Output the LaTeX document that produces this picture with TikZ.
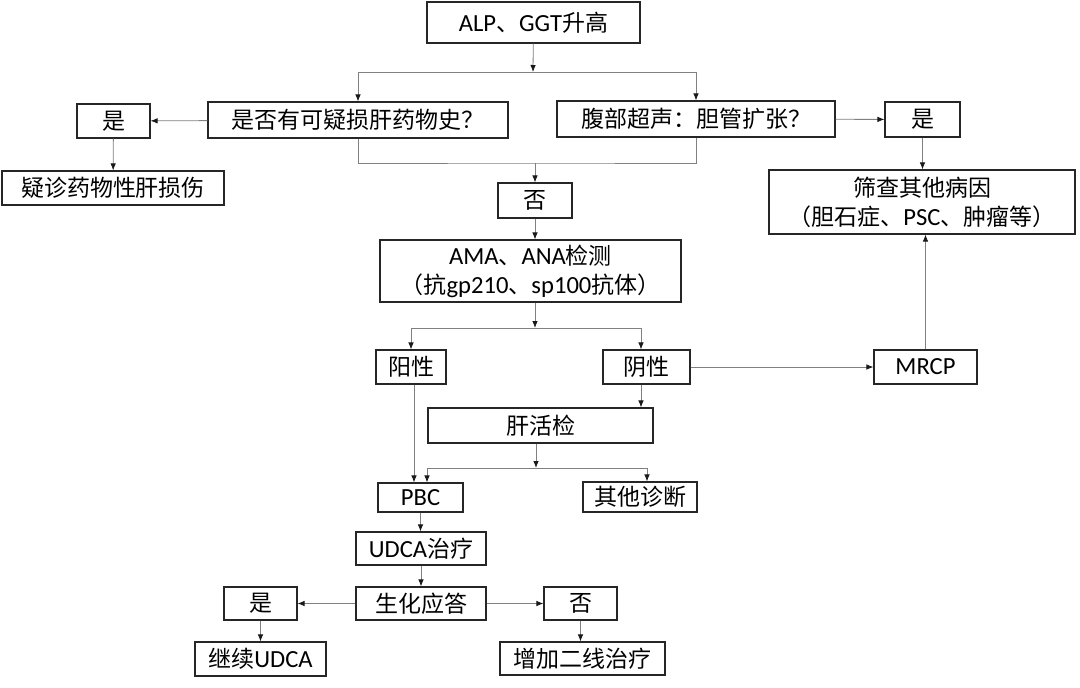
\documentclass[tikz,border=0pt]{standalone}
\usepackage{fontspec}
\setmainfont{Noto Sans CJK SC}
\newfontfamily\en{Carlito}[Scale=1.07]
\usepackage{tikz}
\usetikzlibrary{positioning, arrows.meta}

\begin{document}
\begin{tikzpicture}[
    x=1pt, y=-1pt,
    box/.style={rectangle, draw=black!85, line width=1.1pt, inner sep=0pt, align=center,
        font=\fontsize{23}{29}\selectfont},
    link/.style={draw=black!50, line width=0.8pt},
    >={Latex[length=7pt, width=5.5pt, color=black!90]}
    ]
\useasboundingbox (0,0) rectangle (1080,688);

% upper part
\node[box, minimum width=213pt, minimum height=41pt] (top) at (533.5,22.5) {{\en ALP}、{\en GGT}升高};
\node[box, minimum width=300pt, minimum height=36pt] (drug) at (358,120) {是否有可疑损肝药物史？};
\node[box, minimum width=278pt, minimum height=36pt] (us) at (696,119) {腹部超声：胆管扩张？};
\node[box, minimum width=73pt, minimum height=34pt] (yesL) at (113.5,121) {是};
\node[box, minimum width=222pt, minimum height=34pt] (dili) at (113,188) {疑诊药物性肝损伤};
\node[box, minimum width=75pt, minimum height=35pt] (yesR) at (922.5,119.5) {是};
\node[box, minimum width=306pt, minimum height=64pt] (screen) at (922,202) {筛查其他病因\\（胆石症、{\en PSC}、肿瘤等）};
\node[box, minimum width=74pt, minimum height=35pt] (no1) at (535,200.5) {否};
\node[box, minimum width=301pt, minimum height=62pt] (ama) at (530.5,271) {{\en AMA}、{\en ANA}检测\\（抗{\en gp210}、{\en sp100}抗体）};

% middle part
\node[box, minimum width=70pt, minimum height=34pt] (pos) at (411,367) {阳性};
\node[box, minimum width=87pt, minimum height=34pt] (neg) at (646.5,367) {阴性};
\node[box, minimum width=103pt, minimum height=34pt] (mrcp) at (925.5,367) {\en MRCP};
\node[box, minimum width=225pt, minimum height=35pt] (biopsy) at (540.5,425.5) {肝活检};
\node[box, minimum width=85pt, minimum height=29pt] (pbc) at (420.5,497.5) {\en PBC};
\node[box, minimum width=114pt, minimum height=30pt] (other) at (640,497) {其他诊断};

% lower part
\node[box, minimum width=130pt, minimum height=33pt] (udca) at (421,548.5) {{\en UDCA}治疗};
\node[box, minimum width=130pt, minimum height=33pt] (resp) at (421,603.5) {生化应答};
\node[box, minimum width=73pt, minimum height=33pt] (yesB) at (260.5,603.5) {是};
\node[box, minimum width=73pt, minimum height=33pt] (noB) at (580.5,603.5) {否};
\node[box, minimum width=131pt, minimum height=34pt] (cont) at (260.5,659) {继续{\en UDCA}};
\node[box, minimum width=165pt, minimum height=33pt] (add) at (582.5,658.5) {增加二线治疗};

\coordinate (j1) at (533,72);
\coordinate (j2) at (535,163);
\coordinate (j3) at (535,328);
\coordinate (j4) at (536,468);
\coordinate (negx) at (641,0);
\coordinate (posx) at (414,0);

\draw[link, ->] (top) -- (j1);
\draw[link, ->] (j1) -| (drug.north);
\draw[link, ->] (j1) -| (us.north);
\draw[link, ->] (drug) -- (yesL);
\draw[link, ->] (yesL) -- (dili);
\draw[link, ->] (us) -- (yesR);
\draw[link, ->] (yesR) -- (yesR |- screen.north);
\draw[link] (drug.south) |- (j2) -| (us.south);
\draw[link, ->] (j2) -- (no1);
\draw[link, ->] (no1) -- (no1 |- ama.north);

\draw[link, ->] (ama.south -| j3) -- (j3);
\draw[link, ->] (j3) -| (pos.north);
\draw[link, ->] (j3) -| (negx |- neg.north);
\draw[link, ->] (neg) -- (mrcp);
\draw[link, ->] (mrcp) -- (mrcp |- screen.south);
\draw[link, ->] (negx |- neg.south) -- (negx |- biopsy.north);
\draw[link, ->] (posx |- pos.south) -- (posx |- pbc.north);
\draw[link, ->] (biopsy.south -| j4) -- (j4);
\draw[link, ->] (j4) -| ([xshift=6.5pt]pbc.north);
\draw[link, ->] (j4) -| ([xshift=7pt]other.north);

\draw[link, ->] (pbc) -- (pbc |- udca.north);
\draw[link, ->] (udca) -- (resp);
\draw[link, ->] (resp) -- (yesB);
\draw[link, ->] (resp) -- (noB);
\draw[link, ->] (yesB) -- (cont);
\draw[link, ->] (noB) -- (noB |- add.north);
\end{tikzpicture}
\end{document}
